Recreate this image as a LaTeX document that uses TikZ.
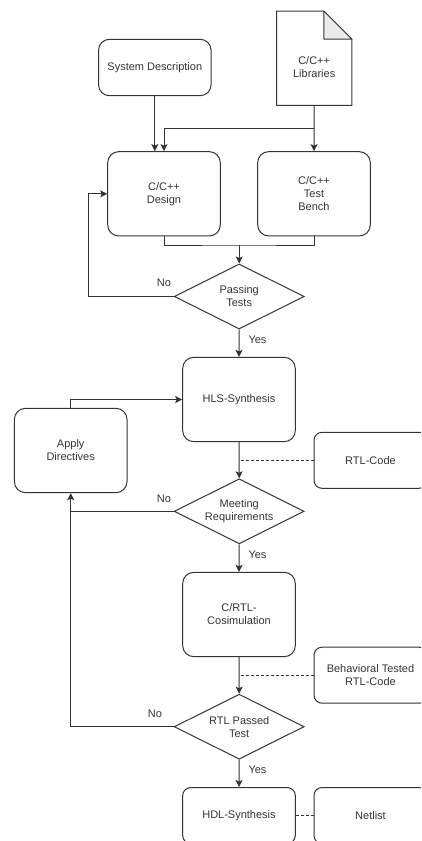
\documentclass[tikz,border=0pt]{standalone}
\usepackage{fontspec}
\setmainfont{Liberation Sans}
\usepackage{tikz}
\usetikzlibrary{
  positioning, arrows.meta, shapes.geometric, calc,
}
\definecolor{cLine}  {HTML}{333333}
\definecolor{cText}  {HTML}{333333}
\definecolor{cFold}  {HTML}{EBEBEB}

\tikzset{
  flowbox/.style={draw=cLine, line width=1pt, rounded corners=11pt,
                  minimum width=112.6pt, minimum height=84.3pt, inner sep=2pt,
                  align=center, font=\fontsize{11}{13}\selectfont, text=cText},
  outbox/.style={flowbox, minimum width=113pt, minimum height=56pt, rounded corners=8pt},
  decision/.style={diamond, aspect=2, draw=cLine, line width=1pt,
                   minimum width=130pt, minimum height=65pt, inner sep=0pt,
                   align=center, font=\fontsize{11}{13}\selectfont, text=cText},
  flow/.style={draw=cLine, line width=1pt, -{Stealth[length=7pt, width=7pt, inset=1.5pt]}},
  plain/.style={draw=cLine, line width=1pt},
  link/.style={draw=cLine, line width=0.8pt, dash pattern=on 3pt off 2pt},
  answer/.style={font=\fontsize{11}{13}\selectfont, text=cText},
}

\begin{document}
\begin{tikzpicture}[x=1pt, y=-1pt]
        \useasboundingbox (0,0) rectangle (421,841);
        \clip (0,0) rectangle (421,841);

        % inputs
        \node[flowbox, minimum height=56.4pt] (sysdesc) at (154.8, 67.5) {System Description};
        \node[minimum width=75pt, minimum height=93.7pt, inner sep=0pt]
             (libs) at (314.2, 58.2) {};
        \node[answer, align=center] (libtext) at (314.2, 66.8) {C/C++\\Libraries};
        \draw[plain] (libs.north west) -- ($(libs.north east)+(-28,0)$)
              -- ($(libs.north east)+(0,28)$) -- (libs.south east) -- (libs.south west) -- cycle;
        \draw[plain, fill=cFold, line join=round] ($(libs.north east)+(-28,0)$)
              -- ($(libs.north east)+(-28,28)$) -- ($(libs.north east)+(0,28)$) -- cycle;

        \node[flowbox] (design) at (164, 193.8) {C/C++\\Design};
        \node[flowbox] (bench)  at (314, 193.8) {C/C++\\Test\\Bench};
        \node[decision] (pass) at (239.2, 296.5) {Passing\\Tests};

        \node[flowbox] (hls)   at (239, 399.5) {HLS-Synthesis};
        \node[flowbox] (apply) at (70.7, 450.5) {Apply\\Directives};
        \node[outbox]  (rtl)   at (370.5, 460.3) {RTL-Code};
        \node[decision] (meet) at (239.2, 511.3) {Meeting\\Requirements};

        \node[flowbox] (cosim) at (239, 614.5) {C/RTL-\\Cosimulation};
        \node[outbox]  (behav) at (370.5, 675.2) {Behavioral Tested\\RTL-Code};
        \node[decision] (rtlpass) at (239.2, 726.7) {RTL Passed\\Test};

        \node[outbox, minimum width=112.6pt] (hdl) at (239, 815.5) {HDL-Synthesis};
        \node[outbox]  (netlist) at (370.5, 815.5) {Netlist};

        % connectors
        \draw[flow] (sysdesc.south) -- (sysdesc.south |- design.north);
        \draw[flow] (libs.south) -- (bench.north);
        \draw[flow] ($(libs.south)+(0,23.3)$) -| (design.north);
        \coordinate (join) at (239.2, 245);
        \draw[plain] (design.south) |- (join) -| (bench.south);
        \draw[flow] (join) -- (pass.north);
        \draw[flow] (pass.west) -| ($(design.west)+(-18.4,0)$) -- (design.west);
        \node[answer] (no1) at (164, 283) {No};
        \draw[flow] (pass.south) -- (hls.north);
        \node[answer] (yes1) at (257.5, 340) {Yes};

        \draw[flow] (apply.north) |- (hls.west);
        \draw[flow] (hls.south) -- (meet.north);
        \draw[link] (rtl.west) -- (rtl.west -| hls.south);
        \draw[flow] (meet.west) -| (apply.south);
        \node[answer] (no2) at (164, 499) {No};
        \draw[flow] (meet.south) -- (cosim.north);
        \node[answer] (yes2) at (257.5, 555) {Yes};

        \draw[flow] (cosim.south) -- (rtlpass.north);
        \draw[link] (behav.west) -- (behav.west -| cosim.south);
        \draw[plain] (rtlpass.west) -| (meet.west -| apply.south);
        \node[answer] (no3) at (155, 714) {No};
        \draw[flow] (rtlpass.south) -- (hdl.north);
        \node[answer] (yes3) at (257.5, 770) {Yes};
        \draw[link] (hdl.east) -- (netlist.west);
\end{tikzpicture}
\end{document}
